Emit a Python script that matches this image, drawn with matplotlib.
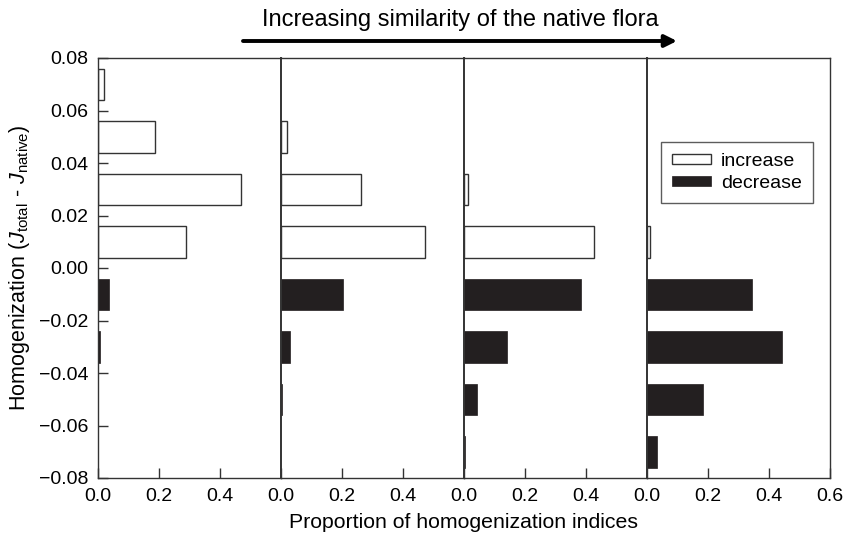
import matplotlib
matplotlib.use("Agg")
import matplotlib.pyplot as plt
import numpy as np

plt.rcParams['font.family'] = ['Liberation Sans', 'DejaVu Sans']
plt.rcParams['mathtext.fontset'] = 'custom'
plt.rcParams['mathtext.rm'] = 'Liberation Sans'
plt.rcParams['mathtext.it'] = 'Liberation Sans:italic'

bins = [0.07, 0.05, 0.03, 0.01, -0.01, -0.03, -0.05, -0.07]
panel1 = [0.021, 0.189, 0.471, 0.290, 0.037, 0.006, 0.0, 0.0]
panel2 = [0.0, 0.021, 0.263, 0.473, 0.204, 0.030, 0.005, 0.0]
panel3 = [0.0, 0.0, 0.015, 0.426, 0.383, 0.143, 0.042, 0.004]
panel4 = [0.0, 0.0, 0.0, 0.010, 0.343, 0.443, 0.183, 0.032]
panels = [panel1, panel2, panel3, panel4]
yticks = [-0.08, -0.06, -0.04, -0.02, 0.00, 0.02, 0.04, 0.06, 0.08]
ytick_labels = ['\u22120.08', '\u22120.06', '\u22120.04', '\u22120.02', '0.00', '0.02', '0.04', '0.06', '0.08']

fig = plt.figure(figsize=(8.6, 5.38), dpi=100)
left, right, top, bottom = 97.7 / 860, 830 / 860, 1 - 58 / 538, 1 - 478 / 538
w = (right - left) / 4
dark = '#231f20'
edge = '#333333'
axes = []
for i, vals in enumerate(panels):
    ax = fig.add_axes([left + i * w, bottom, w, top - bottom])
    axes.append(ax)
    vals = np.array(vals)
    b = np.array(bins)
    inc = (b > 0) & (vals > 0)
    dec = (b < 0) & (vals > 0)
    ax.barh(b[inc], vals[inc], height=0.012, left=0, color='white',
            edgecolor=edge, linewidth=1.0, label='increase')
    ax.barh(b[dec], vals[dec], height=0.012, left=0, color=dark,
            edgecolor=dark, linewidth=0.5, label='decrease')
    ax.set_xlim(0, 0.6)
    ax.set_ylim(-0.08, 0.08)
    if i < 3:
        ax.set_xticks([0.0, 0.2, 0.4])
        ax.set_xticklabels(['0.0', '0.2', '0.4'])
    else:
        ax.set_xticks([0.0, 0.2, 0.4, 0.6])
        ax.set_xticklabels(['0.0', '0.2', '0.4', '0.6'])
    ax.tick_params(axis='x', direction='in', length=7, width=1, labelsize=14, pad=7, color=edge)
    if i == 0:
        ax.set_yticks(yticks)
        ax.set_yticklabels(ytick_labels)
        ax.tick_params(axis='y', direction='in', length=7, width=1, labelsize=14, pad=6.5, color=edge)
    else:
        ax.set_yticks([])
    for s in ax.spines.values():
        s.set_color(edge)
        s.set_linewidth(1.0)
    ax.spines['left'].set_linewidth(1.4 if i > 0 else 1.0)

axes[0].set_ylabel(r'Homogenization ($J_{\mathrm{total}}$ - $J_{\mathrm{native}}$)', fontsize=15.5, labelpad=5)
fig.text((left + right) / 2, 1 - 522 / 538, 'Proportion of homogenization indices',
         ha='center', va='center', fontsize=15.3)

leg = axes[3].legend(loc='upper left', bbox_to_anchor=(0.078, 0.80), fontsize=14,
                     frameon=True, fancybox=False, edgecolor=edge,
                     handlelength=2.0, handleheight=0.42, borderpad=0.58,
                     labelspacing=0.25, handletextpad=0.5, borderaxespad=0)
leg.get_frame().set_linewidth(1.0)

fig.text(460 / 860, 1 - 26 / 538, 'Increasing similarity of the native flora',
         ha='center', va='baseline', fontsize=17)
fig.add_artist(matplotlib.patches.FancyArrowPatch(
    (243 / 860, 1 - 41 / 538), (677 / 860, 1 - 41 / 538),
    transform=fig.transFigure, arrowstyle='-|>', mutation_scale=18,
    linewidth=2.8, color='black', shrinkA=0, shrinkB=0))

fig.savefig('out.png', dpi=100)
